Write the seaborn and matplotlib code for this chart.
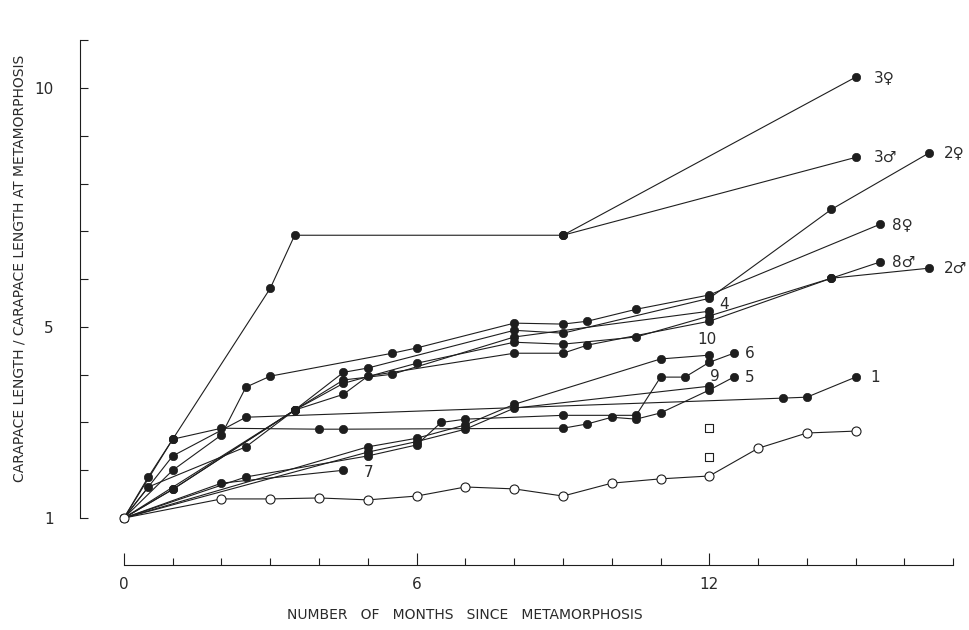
import matplotlib
matplotlib.use("Agg")
import matplotlib.pyplot as plt
import seaborn as sns
from matplotlib.ticker import FixedLocator

sns.set_style("white")
plt.rcParams['font.family'] = ['DejaVu Sans']

# ---------------- data (months since metamorphosis, relative carapace length) -------------
s3_months = [0, 0.5, 1, 3, 3.5, 9, 15]
s3f_vals = [1, 1.86, 2.65, 5.81, 6.92, 6.92, 10.23]
s3m_months = [9, 15]
s3m_vals = [6.92, 8.55]

s2f_months = [0, 1, 3.5, 4.5, 5, 8, 9, 12, 14.5, 16.5]
s2f_vals = [1, 1.6, 3.26, 4.05, 4.14, 4.93, 4.87, 5.60, 7.46, 8.64]

s2m_months = [0, 1, 3.5, 4.5, 5, 8, 9, 9.5, 12, 14.5, 16.5]
s2m_vals = [1, 1.6, 3.26, 3.59, 3.97, 4.45, 4.45, 4.62, 5.12, 6.02, 6.23]

s8f_months = [0, 1, 2, 2.5, 3, 5.5, 6, 8, 9, 9.5, 10.5, 12, 15.5]
s8f_vals = [1, 2.0, 2.74, 3.74, 3.97, 4.45, 4.56, 5.08, 5.06, 5.12, 5.37, 5.67, 7.15]

s8m_months = [0, 3.5, 4.5, 6, 8, 9, 10.5, 12, 14.5, 15.5]
s8m_vals = [1, 3.26, 3.82, 4.24, 4.68, 4.64, 4.79, 5.23, 6.02, 6.36]

s4_months = [0, 0.5, 2.5, 3.5, 4.5, 5.5, 8, 12]
s4_vals = [1, 1.65, 2.49, 3.26, 3.89, 4.01, 4.79, 5.33]

s10_months = [0, 5, 6, 7, 8, 11, 12]
s10_vals = [1, 2.49, 2.67, 2.95, 3.38, 4.33, 4.41]

s9_months = [0, 5, 6, 7, 8, 12]
s9_vals = [1, 2.38, 2.60, 2.86, 3.30, 3.76]

s6_months = [0, 2.5, 5, 6, 6.5, 7, 9, 10.5, 11, 11.5, 12, 12.5]
s6_vals = [1, 1.86, 2.30, 2.53, 3.0, 3.07, 3.15, 3.15, 3.95, 3.95, 4.26, 4.45]

s7_months = [0, 2, 4.5]
s7_vals = [1, 1.73, 2.0]

s5_months = [0, 1, 2, 4, 4.5, 9, 9.5, 10, 10.5, 11, 12, 12.5]
s5_vals = [1, 2.65, 2.88, 2.86, 2.86, 2.88, 2.97, 3.11, 3.07, 3.2, 3.68, 3.95]

s1_months = [0, 1, 2.5, 13.5, 14, 15]
s1_vals = [1, 2.3, 3.11, 3.51, 3.53, 3.95]

open_months = [0, 2, 3, 4, 5, 6, 7, 8, 9, 10, 11, 12, 13, 14, 15]
open_vals = [1, 1.40, 1.40, 1.42, 1.38, 1.46, 1.65, 1.61, 1.46, 1.73, 1.82, 1.88, 2.46, 2.78, 2.82]

square_months = [12, 12]
square_vals = [2.88, 2.28]

# label text, series, offset in pixels, alignment
filled_series = [
    ("3\u2640", s3_months, s3f_vals, (18, 0), "left"),
    ("3\u2642", s3m_months, s3m_vals, (18, 0), "left"),
    ("2\u2640", s2f_months, s2f_vals, (15, 0), "left"),
    ("2\u2642", s2m_months, s2m_vals, (15, 0), "left"),
    ("8\u2640", s8f_months, s8f_vals, (12, 0), "left"),
    ("8\u2642", s8m_months, s8m_vals, (12, 0), "left"),
    ("4", s4_months, s4_vals, (10, 7), "left"),
    ("10", s10_months, s10_vals, (-2, 16), "center"),
    ("9", s9_months, s9_vals, (6, 10), "center"),
    ("6", s6_months, s6_vals, (11, 0), "left"),
    ("7", s7_months, s7_vals, (20, -2), "left"),
    ("5", s5_months, s5_vals, (11, 0), "left"),
    ("1", s1_months, s1_vals, (15, 0), "left"),
]

ink = "#1e1e1e"
txt = "#2a2a2a"

fig = plt.figure(figsize=(9.7, 6.3), dpi=100)
fig.patch.set_facecolor("white")
ax = fig.add_axes([0.0825, 0.1032, 0.9103, 0.8555])

for label, m, v, off, ha in filled_series:
    sns.lineplot(x=m, y=v, ax=ax, color=ink, lw=0.8, marker="o", markersize=6,
                 markerfacecolor=ink, markeredgecolor=ink, markeredgewidth=0.5,
                 estimator=None, sort=False, legend=False)
    ax.annotate(label, xy=(m[-1], v[-1]), xytext=off, textcoords="offset pixels",
                ha=ha, va="center", fontsize=11, color=txt, annotation_clip=False)

sns.lineplot(x=open_months, y=open_vals, ax=ax, color=ink, lw=0.8, marker="o",
             markersize=6.5, markerfacecolor="white", markeredgecolor=ink,
             markeredgewidth=0.8, estimator=None, sort=False, legend=False, zorder=3)

sns.scatterplot(x=square_months, y=square_vals, ax=ax, marker="s", s=34,
                facecolor="white", edgecolor=ink, linewidth=0.8, legend=False, zorder=3)

ax.set_xlim(-0.9, 17.2)
ax.set_ylim(0.017, 11.3)

for s in ["top", "right"]:
    ax.spines[s].set_visible(False)
for s in ["left", "bottom"]:
    ax.spines[s].set_color(ink)
    ax.spines[s].set_linewidth(0.8)
ax.spines["left"].set_bounds(1, 11)
ax.spines["bottom"].set_bounds(0, 17)

ax.set_xticks([0, 6, 12])
ax.set_xticklabels(["0", "6", "12"])
ax.xaxis.set_minor_locator(FixedLocator(list(range(0, 18))))
ax.set_yticks([1, 5, 10])
ax.set_yticklabels(["1", "5", "10"])
ax.yaxis.set_minor_locator(FixedLocator(list(range(1, 12))))

ax.tick_params(axis="x", which="both", bottom=True, top=False)
ax.tick_params(axis="y", which="both", left=True, right=False)
ax.tick_params(axis="x", which="major", direction="in", length=9, width=0.8,
               colors=ink, labelcolor=txt, labelsize=11, pad=9)
ax.tick_params(axis="x", which="minor", direction="in", length=5, width=0.8, colors=ink)
ax.tick_params(axis="y", which="major", direction="in", length=6, width=0.8,
               colors=ink, labelcolor=txt, labelsize=11, pad=19)
ax.tick_params(axis="y", which="minor", direction="in", length=6, width=0.8, colors=ink)

ax.set_xlabel("")
ax.set_ylabel("")
fig.text(465 / 970, 1 - 615 / 630, "NUMBER   OF   MONTHS   SINCE   METAMORPHOSIS",
         ha="center", va="center", fontsize=10, color=txt)
fig.text(20 / 970, 1 - 268 / 630, "CARAPACE LENGTH / CARAPACE LENGTH AT METAMORPHOSIS",
         ha="center", va="center", rotation=90, fontsize=10, color=txt)

fig.savefig("out.png", dpi=100, facecolor="white")
